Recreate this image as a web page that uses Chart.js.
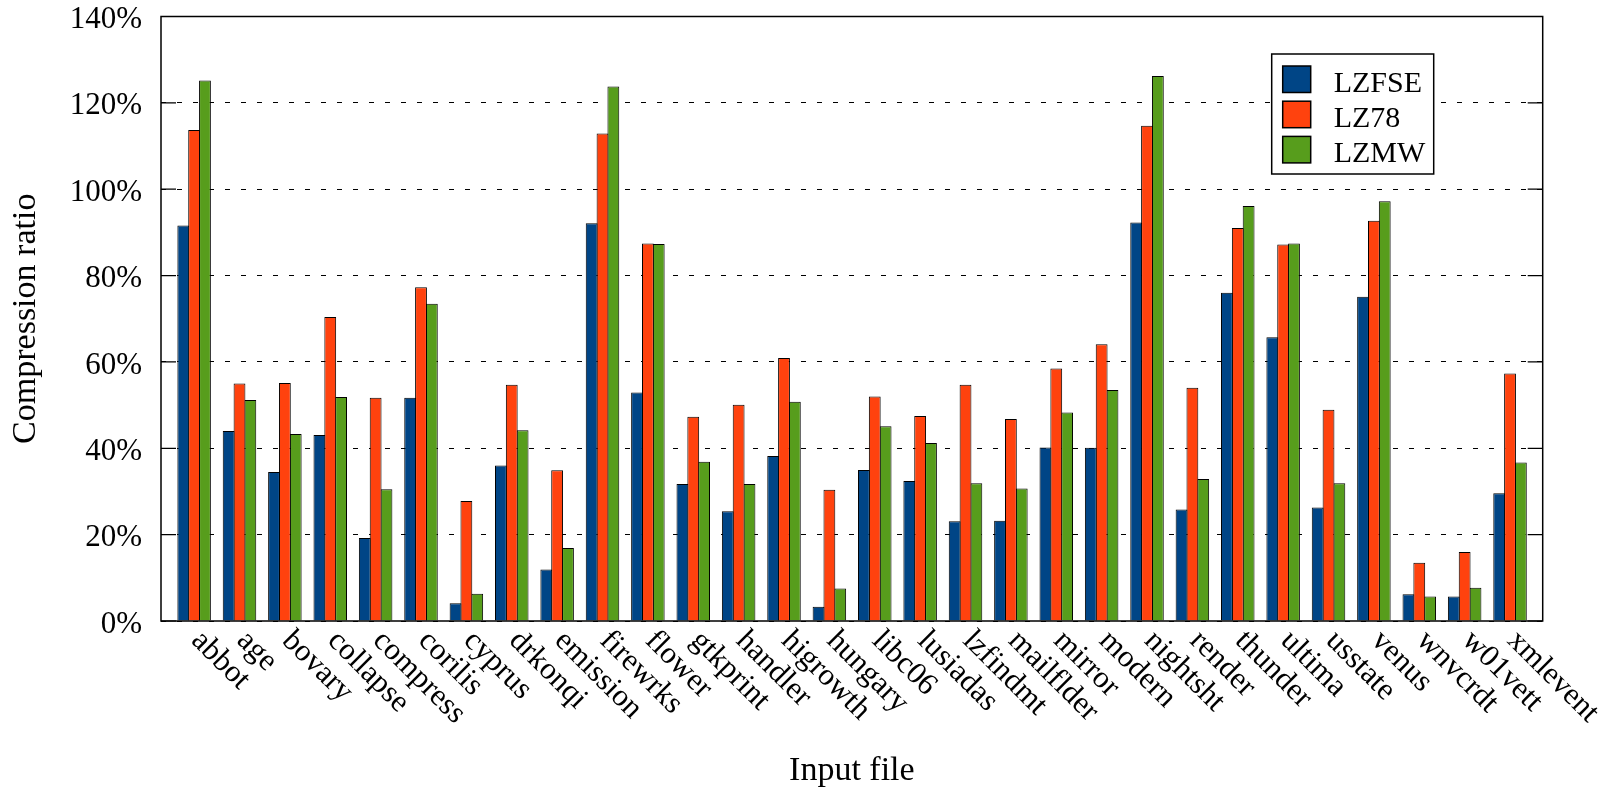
<!DOCTYPE html>
<html>
<head>
<meta charset="utf-8">
<title>Compression ratio by input file</title>
<script src="https://cdn.jsdelivr.net/npm/chart.js@4.4.0/dist/chart.umd.min.js"></script>
<style>
  html, body { margin: 0; padding: 0; background: #ffffff; }
  canvas { display: block; }
</style>
</head>
<body>
<canvas id="chart" width="1615" height="795"></canvas>
<script>
// Input files of the corpus (x categories)
const files = ['abbot', 'age', 'bovary', 'collapse', 'compress', 'corilis', 'cyprus', 'drkonqi',
  'emission', 'firewrks', 'flower', 'gtkprint', 'handler', 'higrowth', 'hungary', 'libc06',
  'lusiadas', 'lzfindmt', 'mailflder', 'mirror', 'modern', 'nightsht', 'render', 'thunder',
  'ultima', 'usstate', 'venus', 'wnvcrdt', 'w01vett', 'xmlevent'];

// Compression ratio (%) per algorithm
const lzfse = [91.6, 44.0, 34.5, 43.1, 19.2, 51.7, 4.1, 36.0, 11.9, 92.1, 52.9, 31.7, 25.4, 38.2, 3.3,
  35.0, 32.4, 23.1, 23.2, 40.2, 40.1, 92.3, 25.8, 76.0, 65.7, 26.3, 75.1, 6.2, 5.7, 29.6];
const lz78 = [113.7, 55.0, 55.1, 70.4, 51.7, 77.3, 27.8, 54.7, 34.9, 112.9, 87.4, 47.3, 50.1, 60.9, 30.4,
  52.0, 47.5, 54.7, 46.8, 58.5, 64.1, 114.7, 54.0, 91.0, 87.2, 48.9, 92.7, 13.5, 16.0, 57.3];
const lzmw = [125.2, 51.2, 43.3, 51.9, 30.5, 73.5, 6.3, 44.2, 16.9, 123.8, 87.3, 36.9, 31.7, 50.8, 7.5,
  45.1, 41.2, 31.9, 30.7, 48.3, 53.5, 126.2, 32.9, 96.1, 87.4, 31.9, 97.2, 5.7, 7.7, 36.7];

// Y axis tick values (%)
const yTickValues = [0, 20, 40, 60, 80, 100, 120, 140];

const SERIF = '"Liberation Serif", "Times New Roman", Times, serif';
Chart.defaults.font.family = SERIF;
Chart.defaults.color = '#000000';

const toPoints = arr => arr.map((v, i) => ({ x: i, y: v }));

// Solid plot frame with inward tick marks on both vertical sides
const framePlugin = {
  id: 'frame',
  afterDatasetsDraw(chart) {
    const { ctx, chartArea: a, scales } = chart;
    ctx.save();
    ctx.strokeStyle = '#000';
    ctx.lineWidth = 1.5;
    ctx.strokeRect(a.left, a.top, a.right - a.left, a.bottom - a.top);
    ctx.lineWidth = 1.2;
    ctx.beginPath();
    scales.y.ticks.forEach(t => {
      const py = scales.y.getPixelForValue(t.value);
      ctx.moveTo(a.left, py); ctx.lineTo(a.left + 15, py);
      ctx.moveTo(a.right, py); ctx.lineTo(a.right - 15, py);
    });
    ctx.stroke();
    ctx.restore();
  }
};

// Category names under the axis, slanted down to the right
const slantedLabelsPlugin = {
  id: 'slantedLabels',
  afterDraw(chart) {
    const { ctx, chartArea: a, scales } = chart;
    ctx.save();
    ctx.font = '31px ' + SERIF;
    ctx.fillStyle = '#000';
    ctx.textAlign = 'left';
    ctx.textBaseline = 'middle';
    chart.data.labels.forEach((name, i) => {
      const px = scales.x.getPixelForValue(i);
      ctx.save();
      ctx.translate(px + 2, a.bottom + 15);
      ctx.rotate(Math.PI / 4);
      ctx.fillText(name, 0, 0);
      ctx.restore();
    });
    ctx.restore();
  }
};

// Boxed legend inside the upper right of the plot
const boxLegendPlugin = {
  id: 'boxLegend',
  afterDraw(chart) {
    const { ctx, chartArea: a } = chart;
    const bx = a.right - 271, by = a.top + 37.5, bw = 162, bh = 120;
    ctx.save();
    ctx.fillStyle = '#fff';
    ctx.fillRect(bx, by, bw, bh);
    ctx.strokeStyle = '#000';
    ctx.lineWidth = 1.5;
    ctx.strokeRect(bx, by, bw, bh);
    ctx.font = '30px ' + SERIF;
    ctx.textAlign = 'left';
    ctx.textBaseline = 'alphabetic';
    chart.data.datasets.forEach((ds, i) => {
      const rowTop = by + 12 + i * 35.2;
      ctx.fillStyle = ds.backgroundColor;
      ctx.fillRect(bx + 11, rowTop, 28, 26.5);
      ctx.strokeRect(bx + 11, rowTop, 28, 26.5);
      ctx.fillStyle = '#000';
      ctx.fillText(ds.label, bx + 62, rowTop + 25.7);
    });
    ctx.restore();
  }
};

const barStyle = {
  borderColor: '#000000',
  borderWidth: 1,
  categoryPercentage: 0.717,
  barPercentage: 1.09
};

new Chart(document.getElementById('chart'), {
  type: 'bar',
  data: {
    labels: files,
    datasets: [
      Object.assign({ label: 'LZFSE', data: toPoints(lzfse), backgroundColor: '#004586' }, barStyle),
      Object.assign({ label: 'LZ78', data: toPoints(lz78), backgroundColor: '#ff420e' }, barStyle),
      Object.assign({ label: 'LZMW', data: toPoints(lzmw), backgroundColor: '#579d1c' }, barStyle)
    ]
  },
  options: {
    responsive: false,
    devicePixelRatio: 1,
    animation: false,
    layout: { padding: { top: 16.5, right: 72.3, bottom: 0, left: 0 } },
    plugins: {
      legend: { display: false },
      tooltip: { enabled: false }
    },
    scales: {
      x: {
        type: 'linear',
        min: -0.73,
        max: 29.72,
        offset: false,
        grid: { display: false, drawTicks: false },
        border: { display: false },
        ticks: { display: false },
        afterBuildTicks: s => { s.ticks = files.map((_, i) => ({ value: i })); },
        afterFit: s => { s.height = 174; s.paddingLeft = 0; s.paddingRight = 0; },
        title: {
          display: true,
          text: 'Input file',
          font: { size: 34, lineHeight: 1 },
          padding: { top: 0, bottom: 7 }
        }
      },
      y: {
        min: 0,
        max: 140,
        afterBuildTicks: s => { s.ticks = yTickValues.map(v => ({ value: v })); },
        ticks: {
          callback: v => v + '%',
          font: { size: 31, lineHeight: 1 },
          padding: 19,
          labelOffset: 3.5
        },
        grid: { color: '#000', lineWidth: 1, drawTicks: false },
        border: { display: false, dash: [5, 11] },
        afterFit: s => { s.width = 161; s.paddingTop = 0; s.paddingBottom = 0; },
        title: {
          display: true,
          text: 'Compression ratio',
          font: { size: 34, lineHeight: 1 },
          padding: { top: 9, bottom: 0 }
        }
      }
    }
  },
  plugins: [framePlugin, slantedLabelsPlugin, boxLegendPlugin]
});
</script>
</body>
</html>
